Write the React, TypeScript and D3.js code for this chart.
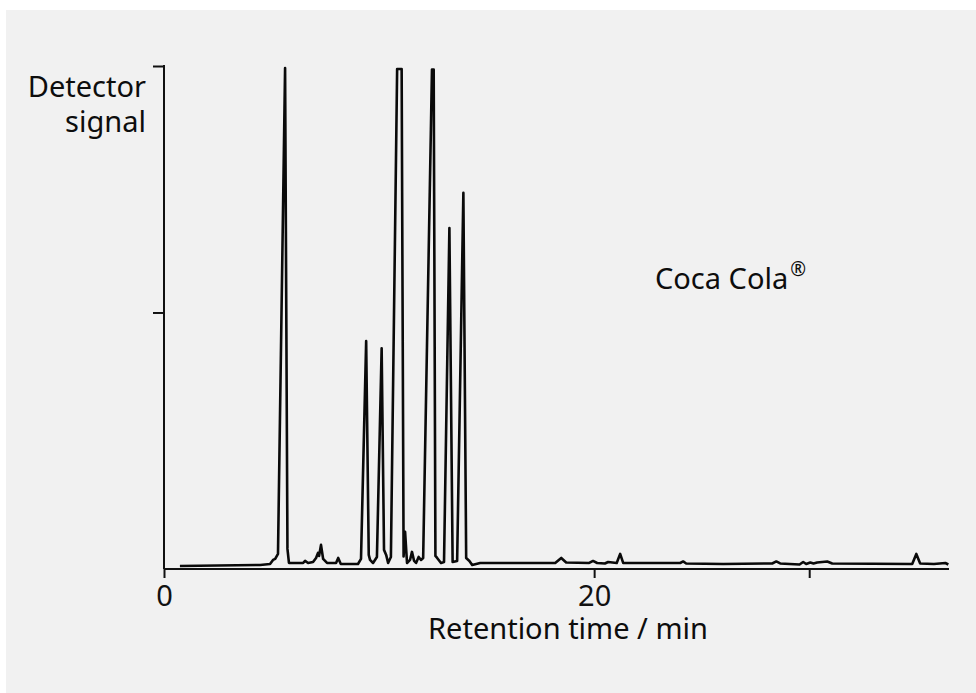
import * as d3 from "d3";
import React, { useEffect, useRef } from "react";

// retention time (min) / detector signal (% of full scale)
const traceTime = [
    0.74, 4.47, 4.93, 5.07, 5.17, 5.30, 5.63, 5.74, 5.81, 6.47, 6.56, 6.70, 6.93, 7.07, 7.16, 7.21, 7.30, 7.40, 7.58,
    8.00, 8.10, 8.22, 9.02, 9.16, 9.40, 9.52, 9.58, 9.72, 9.90, 10.12, 10.23, 10.33, 10.42, 10.55, 10.84, 11.05,
    11.14, 11.21, 11.30, 11.44, 11.53, 11.63, 11.72, 11.84, 11.95, 12.05, 12.46, 12.54, 12.62, 12.70, 12.88, 13.02, 13.27,
    13.42, 13.63, 13.92, 14.05, 14.20, 14.33, 14.70, 18.19, 18.47, 18.70, 19.77, 19.95, 20.14, 20.50, 20.65, 21.05,
    21.21, 21.35, 24.00, 24.14, 24.28, 26.00, 28.28, 28.47, 28.65, 29.55, 29.72, 29.86, 30.05, 30.20, 30.37, 30.84,
    31.07, 34.79, 34.98, 35.16, 35.80, 36.33, 36.47,
];
const traceSignal = [
    0.6, 0.8, 1.0, 1.8, 2.0, 3.0, 99.6, 4.0, 1.2, 1.2, 1.6, 1.2, 1.4, 2.2, 3.2, 2.6, 4.8, 2.0, 1.2,
    1.2, 2.2, 1.0, 1.0, 2.0, 45.3, 2.8, 1.8, 1.2, 2.4, 43.9, 3.8, 2.8, 1.2, 2.4, 99.4, 99.4,
    2.5, 7.4, 1.2, 1.8, 3.4, 1.6, 1.2, 2.4, 1.8, 2.2, 99.3, 99.3, 2.6, 2.2, 1.2, 1.4, 67.8,
    1.4, 1.6, 74.8, 2.2, 1.6, 0.8, 1.2, 1.2, 2.2, 1.3, 1.2, 1.6, 1.2, 1.1, 1.4, 1.2,
    3.0, 1.2, 1.2, 1.5, 1.1, 1.0, 1.1, 1.5, 1.1, 0.9, 1.4, 1.0, 1.3, 1.1, 1.3, 1.5,
    1.1, 1.0, 3.0, 1.1, 1.0, 1.2, 0.9,
];

const xTicks = [0, 20, 30];
const xTickLabels = ["0", "20", ""];
const yTicks = [51, 100];

const xDomain = [0, 36.5];
const yDomain = [0, 100];

const W = 976;
const H = 693;
const left = 164;
const right = 949;
const top = 66;
const bottom = 569;
const font = "'Noto Sans', 'Open Sans', sans-serif";

function Chromatogram() {
    const svgRef: any = useRef<any>(null);

    useEffect(() => {
        const svg = d3.select(svgRef.current);
        svg.selectAll("*").remove();

        svg.append("rect").attr("width", W).attr("height", H).attr("fill", "#ffffff");
        svg.append("rect").attr("x", 6).attr("y", 10).attr("width", W - 6).attr("height", H - 10).attr("fill", "#f1f1f1");

        const x = d3.scaleLinear().domain(xDomain).range([left, right]);
        const y = d3.scaleLinear().domain(yDomain).range([bottom, top]);

        // y axis: bare line with outward ticks, no labels
        const yAxis = svg.append("g")
            .attr("transform", `translate(${left},0)`)
            .call(d3.axisLeft(y).tickValues(yTicks).tickSize(11).tickSizeOuter(0).tickFormat(() => ""));
        yAxis.select(".domain").remove();
        yAxis.selectAll("line").attr("stroke", "#111").attr("stroke-width", 2);
        svg.append("line")
            .attr("x1", left).attr("x2", left)
            .attr("y1", y(100) - 1).attr("y2", bottom)
            .attr("stroke", "#111").attr("stroke-width", 2);

        // x axis
        const xAxis = svg.append("g")
            .attr("transform", `translate(0,${bottom})`)
            .call(d3.axisBottom(x).tickValues(xTicks).tickSize(9).tickSizeOuter(0)
                .tickFormat((d, i) => xTickLabels[i]));
        xAxis.select(".domain").attr("stroke", "#111").attr("stroke-width", 2)
            .attr("d", `M${left},0H${right}`);
        xAxis.selectAll("line").attr("stroke", "#111").attr("stroke-width", 2);
        xAxis.selectAll("text")
            .attr("fill", "#111")
            .attr("font-family", font)
            .attr("font-size", 29)
            .attr("y", 37)
            .attr("dy", 0);

        const line = d3.line<number>()
            .x((d, i) => x(traceTime[i]))
            .y((d) => y(d));

        svg.append("path")
            .datum(traceSignal)
            .attr("d", line)
            .attr("fill", "none")
            .attr("stroke", "#0a0a0a")
            .attr("stroke-width", 2.6)
            .attr("stroke-linejoin", "round");

        const txt = svg.append("g").attr("font-family", font).attr("fill", "#0d0d0d");
        txt.append("text").attr("x", 146).attr("y", 97).attr("text-anchor", "end").attr("font-size", 29).text("Detector");
        txt.append("text").attr("x", 146).attr("y", 132).attr("text-anchor", "end").attr("font-size", 29).text("signal");
        txt.append("text").attr("x", 568).attr("y", 639).attr("text-anchor", "middle").attr("font-size", 29).text("Retention time / min");
        const cc = txt.append("text").attr("x", 655).attr("y", 289).attr("font-size", 29);
        cc.append("tspan").text("Coca Cola");
        cc.append("tspan").attr("font-size", 19).attr("dy", -13).attr("dx", 2).text("®");
    }, []);

    return (
        <svg
            ref={svgRef}
            width={W}
            height={H}
            style={{ position: "absolute", left: 0, top: 0 }}
        />
    );
}

export default function App() {
    return <Chromatogram />;
}
